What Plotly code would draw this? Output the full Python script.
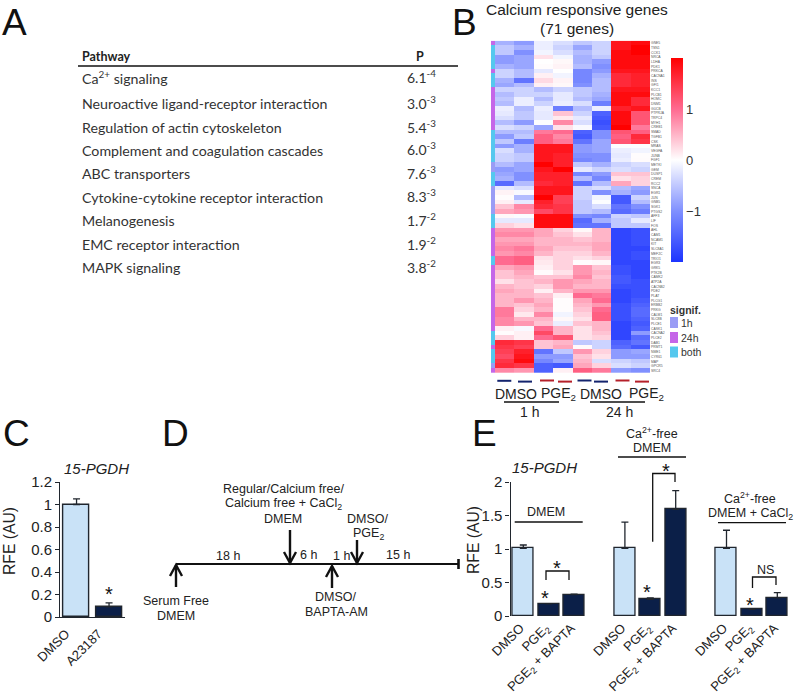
import plotly.graph_objects as go

W, H = 796, 695
SANS = "Liberation Sans"
TBL = "Lato"
def fx(x): return x / W
def fy(y): return 1 - y / H

# ---------- panel A ----------
pathways = ["Ca<sup>2+</sup> signaling", "Neuroactive ligand-receptor interaction",
            "Regulation of actin cytoskeleton", "Complement and coagulation cascades",
            "ABC transporters", "Cytokine-cytokine receptor interaction",
            "Melanogenesis", "EMC receptor interaction", "MAPK signaling"]
p_mantissa = ["6.1", "3.0", "5.4", "6.0", "7.6", "8.3", "1.7", "1.9", "3.8"]
p_exponent = ["-4", "-3", "-3", "-3", "-3", "-3", "-2", "-2", "-2"]

# ---------- panel B ----------
heat_columns = ["DMSO 1h a", "DMSO 1h b", "PGE2 1h a", "PGE2 1h b",
                "DMSO 24h a", "DMSO 24h b", "PGE2 24h a", "PGE2 24h b"]
gene_labels = ["GNE5","TSN1","CCK1","NRCA","LDHA","PDK1","PRKCA","CACNA1","INS","GFI1","KCC1","PLCB1","HOMC",
 "DNM1","GUCB","PTPRJA","TRPC4","MYH1","CREB1","SMAD","TGFB1","CSK","MRAS","VEGFA","JUNB","FGF1","METKI","GEM",
 "DUSP1","CREM","RCC2","SNCA","EGR1","JUN","GNB5","SGK1","PTGS2","AFF3","LIF","FOS","AHL","CAM1","NCAM1","KIT",
 "SLC8A1","MEF2C","TRIO1","EGR3","GRK5","PTK2B","CAMK2","ATP2A","CACNB2","PDE2","PLAT","PLCG1","ERBB2","PRKG",
 "CALM1","SLC8B","PLCE1","CASK1","CACNA2","PLCE2","DAB1","PRMT1","NME1","CYR61","MAP","GPCR5","SRC4"]
# colour group of each row: 0 = 1h, 1 = 24h, 2 = both
signif_groups = [1,2,2,2,2,2,1,2,2,2,1,1,1,1,1,1,1,1,1,2,2,2,2,2,2,2,0,0,2,2,2,0,0,0,0,0,0,2,2,2,
                 1,1,1,1,1,1,2,2,1,1,1,1,1,1,1,1,1,1,1,1,1,1,2,2,2,1,2,2,2,0,1]
heat_rows = [
 [-0.7,-0.9,-0.15,-0.3,-0.5,-0.4,1.8,1.9],
 [-0.5,-0.7,-0.15,-0.4,-0.8,-0.4,1.8,2.0],
 [-0.5,-1.0,-0.1,-0.3,-0.6,-0.4,1.9,2.0],
 [-0.9,-0.8,0.2,-0.1,-0.7,-0.5,1.9,1.9],
 [-0.9,-0.8,0.0,0.05,-0.7,-0.9,1.9,1.9],
 [-0.7,-0.8,0.02,0.08,-0.6,-1.0,1.9,1.9],
 [-0.4,-0.6,-0.2,0.0,-1.1,-0.9,1.8,1.8],
 [-0.4,-0.6,0.1,-0.1,-1.1,-0.7,1.6,1.7],
 [-0.7,-1.3,0.25,0.08,-1.1,-0.6,1.6,1.7],
 [-0.8,-0.6,0.1,0.05,-1.0,-0.6,1.6,1.7],
 [-0.4,-0.4,-0.6,-0.4,-0.5,-0.6,1.8,1.8],
 [-0.6,-0.4,-0.4,-0.2,-0.5,-0.7,1.9,1.9],
 [-0.5,-0.15,-0.6,-0.2,-0.6,-0.8,1.9,1.6],
 [-0.6,-0.15,-0.4,-0.15,-0.3,-1.2,1.9,1.6],
 [-0.15,-0.6,-0.15,-1.2,-0.6,-0.15,1.7,1.8],
 [-0.2,-0.5,-0.2,0.4,-0.4,-1.5,1.9,1.2],
 [-0.3,-0.5,-0.2,0.15,-0.2,-1.6,1.9,1.2],
 [-0.6,-0.9,-0.02,0.8,-0.3,-1.7,1.9,1.2],
 [-0.3,-0.4,-0.8,0.2,-0.05,-1.6,2.0,0.9],
 [-0.6,-0.6,0.9,1.0,-1.5,-1.0,1.2,1.1],
 [-0.9,-0.5,1.1,0.8,-1.6,-1.0,1.1,1.6],
 [-0.5,-1.2,1.1,0.9,-1.3,-0.8,1.2,1.5],
 [-0.9,-0.7,1.8,1.8,-0.9,-0.8,-0.02,-0.02],
 [-0.3,-0.7,1.8,1.8,-0.9,-0.8,-0.15,-0.1],
 [-0.4,-0.5,1.8,1.7,-1.0,-1.0,-0.2,0.02],
 [-0.4,-0.5,1.8,1.7,-1.1,-1.0,-0.15,0.03],
 [-0.6,-0.8,2.0,1.7,-0.5,-0.7,-0.4,-0.3],
 [-0.9,-0.8,1.8,2.0,-0.2,-0.4,-0.3,-0.4],
 [-0.8,-1.0,1.7,1.7,-1.1,-0.9,0.4,0.4],
 [-0.7,-1.0,1.7,1.7,-0.6,-1.1,0.2,0.3],
 [-1.4,-0.6,1.6,1.7,-1.3,-0.6,0.6,0.3],
 [-0.2,-0.3,1.8,1.8,-0.4,-0.3,-0.6,-0.8],
 [0.08,-0.05,1.8,1.8,-0.4,-1.0,-0.7,-0.9],
 [0.02,-0.6,2.0,1.4,-0.4,-0.1,-1.6,-0.4],
 [0.1,-0.2,1.7,1.4,-0.5,-0.02,-1.6,-0.6],
 [0.4,0.8,1.6,1.5,-0.5,-0.3,-1.3,-1.0],
 [0.6,0.7,1.3,1.5,-0.5,-0.6,-1.4,-1.2],
 [0.05,-0.03,1.9,1.9,-1.0,-1.1,-0.4,-0.5],
 [-0.2,-0.2,1.9,1.9,-1.4,-0.7,-0.5,-0.2],
 [0.3,0.2,1.9,1.9,-1.3,-1.3,-0.5,-0.5],
 [0.7,0.7,0.6,0.3,0.05,0.5,-1.8,-1.7],
 [0.8,0.8,0.6,0.4,0.2,0.5,-1.8,-1.7],
 [0.6,0.6,0.5,0.5,0.4,0.5,-1.8,-1.7],
 [0.7,0.7,0.5,0.5,0.5,0.6,-1.8,-1.7],
 [0.8,0.9,0.6,0.4,0.4,0.6,-1.8,-1.8],
 [0.7,0.8,0.5,0.3,0.3,0.5,-1.8,-1.7],
 [1.0,1.1,0.2,0.3,0.2,0.3,-1.8,-1.7],
 [1.0,1.1,0.15,0.3,0.02,0.05,-1.8,-1.8],
 [0.6,0.7,0.1,0.3,0.7,0.4,-1.7,-1.8],
 [0.4,0.6,0.03,0.2,0.7,0.5,-1.7,-1.8],
 [0.4,0.5,0.4,0.4,0.8,0.4,-1.6,-1.8],
 [0.2,0.4,0.5,0.7,0.6,0.5,-1.6,-1.7],
 [0.5,0.4,0.3,0.7,0.5,0.5,-1.7,-1.7],
 [0.6,0.5,0.1,0.5,0.7,0.7,-1.8,-1.7],
 [0.5,0.5,0.4,0.1,1.0,0.9,-1.8,-1.7],
 [0.5,0.7,0.5,0.02,0.6,1.0,-1.8,-1.6],
 [0.5,0.4,0.6,0.02,0.5,0.7,-1.7,-1.5],
 [0.9,0.3,0.5,0.02,0.4,1.0,-1.7,-1.4],
 [0.9,0.15,0.8,-0.1,0.3,1.1,-1.7,-1.4],
 [0.8,0.5,0.5,0.05,0.2,1.1,-1.7,-1.5],
 [0.8,0.7,0.4,-0.15,0.4,0.5,-1.8,-1.6],
 [0.1,-0.05,1.0,0.5,0.2,0.5,-1.8,-1.5],
 [0.02,0.1,1.3,0.5,0.2,0.4,-1.8,-0.9],
 [0.3,0.1,1.0,1.2,0.2,0.3,-1.8,-1.4],
 [1.6,1.5,0.4,0.5,-0.5,-0.4,-1.5,-1.3],
 [1.5,1.4,0.4,0.6,0.04,-0.4,-1.4,-1.6],
 [1.4,1.7,-1.3,-0.5,0.7,0.3,-0.9,-0.8],
 [1.3,1.8,-0.9,-0.9,0.4,0.2,-0.9,-0.9],
 [1.5,1.9,-1.1,-0.8,0.5,-0.3,-0.4,-0.5],
 [1.6,1.5,-1.5,-1.6,0.6,0.3,-0.3,-0.4],
 [0.8,0.7,-1.5,0.1,1.1,0.9,-0.9,-1.0],
]
heat_ticks = [-1, 0, 1]

# ---------- panel C ----------
c_labels = ["DMSO", "A23187"]
c_positions = [0, 1]
c_values = [1.0, 0.09]
c_errors = [0.05, 0.035]
c_ticks = [0, 0.2, 0.4, 0.6, 0.8, 1, 1.2]

# ---------- panel E ----------
e_labels = ["DMSO", "PGE<sub>2</sub>", "PGE<sub>2</sub> + BAPTA"] * 3
e_positions = [0, 1, 2, 4, 5, 6, 8, 9, 10]
e_values = [1.01, 0.18, 0.32, 1.01, 0.25, 1.59, 1.01, 0.10, 0.27]
e_errors = [0.05, 0.005, 0.005, 0.39, 0.02, 0.28, 0.27, 0.005, 0.08]
e_ticks = [0, 0.5, 1, 1.5, 2]
LIGHT, DARK, EDGE = "#c9e2f7", "#0b1f48", "#20262e"
C_1H, C_24H, C_BOTH = "#9a9cf5", "#c566e8", "#55c8ee"

fig = go.Figure()

scale = [[0, "#1c34ff"], [0.25, "#8090ff"], [0.5, "#ffffff"], [0.75, "#ff6a90"], [1, "#ff0000"]]
fig.add_trace(go.Heatmap(z=heat_rows, x=heat_columns, y=gene_labels, zmin=-2, zmax=2, colorscale=scale,
    xaxis="x", yaxis="y", xgap=0, ygap=0, hoverinfo="skip",
    colorbar=dict(x=fx(671), xanchor="left", xpad=0, ypad=0, y=fy(160), yanchor="middle",
                  lenmode="pixels", len=204, thicknessmode="pixels", thickness=12, outlinewidth=0,
                  tickvals=heat_ticks, ticktext=["−1", "0", "1"], ticks="",
                  tickfont=dict(family=SANS, size=13, color="#333"))))
fig.add_trace(go.Heatmap(z=[[g] for g in signif_groups], y=gene_labels, zmin=0, zmax=2, showscale=False,
    xaxis="x2", yaxis="y2", hoverinfo="skip",
    colorscale=[[0, C_1H], [0.33, C_1H], [0.33, C_24H], [0.66, C_24H], [0.66, C_BOTH], [1, C_BOTH]]))
fig.add_trace(go.Bar(x=c_positions, y=c_values, width=0.785, xaxis="x3", yaxis="y3",
    marker=dict(color=[LIGHT, DARK], line=dict(color=EDGE, width=1.4)),
    error_y=dict(type="data", array=c_errors, arrayminus=[0] * 2, color=EDGE, thickness=1.3, width=3.5)))
fig.add_trace(go.Bar(x=e_positions, y=e_values, width=0.82, xaxis="x4", yaxis="y4",
    marker=dict(color=[LIGHT, DARK, DARK] * 3, line=dict(color=EDGE, width=1.3)),
    error_y=dict(type="data", array=e_errors, arrayminus=[0] * 9, color=EDGE, thickness=1.3, width=3.5)))

ax_font = dict(family=SANS, size=15, color="#222")
C_SHIFT, E_SHIFT = 0.33, 0.12   # rotated labels end under the bar centre, as in the reference
def hidden(**k):
    return dict(visible=False, **k)
layout_axes = dict(
    xaxis=dict(domain=[fx(495), fx(650)], showticklabels=False, ticks="", showline=False, showgrid=False, zeroline=False, anchor="y"),
    yaxis=dict(domain=[fy(373), fy(40.7)], autorange="reversed", side="right", anchor="x", showgrid=False, zeroline=False,
               showline=False, ticks="", tickmode="array", tickvals=gene_labels, ticktext=gene_labels,
               tickfont=dict(family=SANS, size=3.4, color="#555")),
    xaxis2=hidden(domain=[fx(491), fx(495)], anchor="y2"),
    yaxis2=hidden(domain=[fy(373), fy(40.7)], autorange="reversed", anchor="x2"),
    xaxis3=dict(domain=[fx(60.3), fx(125.3)], anchor="y3", range=[-0.5, 1.5], showline=True, linecolor=EDGE, linewidth=1.3,
                ticks="", tickangle=-45, tickmode="array", tickvals=[p - C_SHIFT for p in c_positions], ticktext=c_labels,
                tickfont=dict(family=SANS, size=13, color="#222"), ticklabelstandoff=3, showgrid=False, zeroline=False),
    yaxis3=dict(domain=[fy(617), fy(482)], anchor="x3", range=[0, 1.2], showline=True, linecolor=EDGE, linewidth=1.3,
                ticks="outside", ticklen=4, tickcolor=EDGE, tickvals=c_ticks, ticktext=[str(t) for t in c_ticks],
                tickfont=ax_font, showgrid=False, zeroline=False),
    xaxis4=dict(domain=[fx(510.6), fx(790)], anchor="y4", range=[-0.5, 10.5], showline=False, ticks="", tickangle=-45,
                tickmode="array", tickvals=[p - E_SHIFT for p in e_positions], ticktext=e_labels,
                tickfont=dict(family=SANS, size=13, color="#222"), ticklabelstandoff=1, showgrid=False, zeroline=False),
    yaxis4=dict(domain=[fy(616), fy(482)], anchor="x4", range=[0, 2], showline=True, linecolor=EDGE, linewidth=1.3,
                ticks="outside", ticklen=4, tickcolor=EDGE, tickvals=e_ticks, ticktext=[str(t) for t in e_ticks],
                tickfont=ax_font, showgrid=False, zeroline=False),
)

notes, shapes = [], []
def text(x, y, s, size=12.5, family=SANS, color="#222", anchor="center", angle=0):
    notes.append(dict(x=fx(x), y=fy(y), xref="paper", yref="paper", text=s, showarrow=False, xanchor=anchor, yanchor="middle",
                      textangle=angle, font=dict(family=family, size=size, color=color)))
def star(x, y):
    text(x, y + 4, "*", size=20, color="#111")
def line(x0, y0, x1, y1, color="#111", width=1.3):
    shapes.append(dict(type="line", xref="paper", yref="paper", x0=fx(x0), y0=fy(y0), x1=fx(x1), y1=fy(y1),
                       line=dict(color=color, width=width)))
def polyline(pts, color="#111", width=1.3):
    d = "M " + " L ".join(f"{fx(a):.5f},{fy(b):.5f}" for a, b in pts)
    shapes.append(dict(type="path", xref="paper", yref="paper", path=d, line=dict(color=color, width=width)))
def arrow(x, y0, y1):
    s = 1 if y1 > y0 else -1
    line(x, y0, x, y1, width=2.4)
    polyline([(x - 6, y1 - s * 11), (x, y1), (x + 6, y1 - s * 11)], width=2.4)

# panel letters
for x, y, s in [(14, 23, "A"), (465, 23, "B"), (16, 433, "C"), (175, 433, "D"), (485, 433, "E")]:
    text(x, y, s, size=37, color="#111")

# panel A table
text(80, 57, "<b>Pathway</b>", size=12.5, family=TBL, anchor="left")
text(420, 57, "<b>P</b>", size=12.5, family=TBL)
line(78, 66, 458, 66, width=1.3)
row_y = [77, 103, 127, 150, 174, 197, 220, 244, 267]
for y, name, m, e in zip(row_y, pathways, p_mantissa, p_exponent):
    text(80, y, name, size=14.2, family=TBL, color="#333", anchor="left")
    text(405, y - 1, f"{m}<sup>{e}</sup>", size=14, family=TBL, color="#333", anchor="left")

# panel B texts
text(577, 9, "Calcium responsive genes", size=15.5)
text(577, 28, "(71 genes)", size=15.5)
text(668, 310, "<b>signif.</b>", size=10.5, color="#333", anchor="left")
for y, c, s in [(322.5, C_1H, "1h"), (337.5, C_24H, "24h"), (352, C_BOTH, "both")]:
    shapes.append(dict(type="rect", xref="paper", yref="paper", x0=fx(670), x1=fx(678), y0=fy(y - 5.5), y1=fy(y + 5.5),
                       fillcolor=c, line=dict(width=0)))
    text(678.5, y, s, size=10.5, color="#333", anchor="left")
for x0, y, c in [(497.3, 380.8, "#14246e"), (518, 381.6, "#14246e"), (540, 380.5, "#b5202a"), (558, 381.6, "#b5202a"),
                 (577.5, 380.5, "#14246e"), (594, 381.6, "#14246e"), (615.5, 380.5, "#b5202a"), (635, 381.6, "#b5202a")]:
    line(x0, y, x0 + 14, y, color=c, width=2)
text(516, 394, "DMSO", size=14)
text(558, 394, "PGE<sub>2</sub>", size=14)
text(601, 394, "DMSO", size=14)
text(646.5, 394, "PGE<sub>2</sub>", size=14)
line(504, 402, 559, 402, width=1.6)
line(590, 402, 645, 402, width=1.6)
text(529, 412, "1 h", size=14)
text(619, 412, "24 h", size=14)

# panel C texts
text(96, 468, "<i>15-PGDH</i>", size=15)
text(9, 541, "RFE (AU)", size=15.7, angle=-90)
star(109, 590)

# panel D timeline
line(176, 564, 458, 564, width=2.2)
line(458.5, 559, 458.5, 569, width=2.6)
arrow(176, 587, 565)
arrow(290, 530, 563)
arrow(332, 588, 566)
arrow(357, 540, 563)
text(228, 556, "18 h")
text(308, 555, "6 h")
text(341, 556, "1 h")
text(398, 555, "15 h")
text(283, 489, "Regular/Calcium free/")
text(283, 504, "Calcium free + CaCl<sub>2</sub>")
text(283, 519, "DMEM")
text(368, 519, "DMSO/")
text(368, 534, "PGE<sub>2</sub>")
text(176, 601, "Serum Free")
text(176, 616, "DMEM")
text(336, 597, "DMSO/")
text(336, 612, "BAPTA-AM")

# panel E texts and brackets
text(544, 467, "<i>15-PGDH</i>", size=15)
text(473, 540, "RFE (AU)", size=15.7, angle=-90)
text(545.7, 512, "DMEM")
line(514.7, 522, 582.7, 522)
text(651.7, 433, "Ca<sup>2+</sup>-free")
text(651.7, 448, "DMEM")
line(618, 457, 686, 457)
text(750, 498, "Ca<sup>2+</sup>-free")
text(750, 514, "DMEM + CaCl<sub>2</sub>")
line(718, 522.7, 786, 522.7)
polyline([(546, 580), (546, 571), (569, 571), (569, 580)])
polyline([(652.7, 541.7), (652.7, 473.5), (675, 473.5), (675, 482)])
polyline([(752.5, 588), (752.5, 577), (776, 577), (776, 585)])
star(556.7, 564)
star(545, 594)
star(665.7, 466.7)
star(647, 588)
star(750, 601)
text(765, 570, "NS")

fig.update_layout(width=W, height=H, margin=dict(l=0, r=0, t=0, b=0, autoexpand=False), autosize=False, showlegend=False, bargap=0,
                  paper_bgcolor="white", plot_bgcolor="white", annotations=notes, shapes=shapes, **layout_axes)
fig.write_html("out.html", config=dict(displayModeBar=False),
               post_script="document.body.style.margin='0';document.documentElement.style.overflow='hidden';")
